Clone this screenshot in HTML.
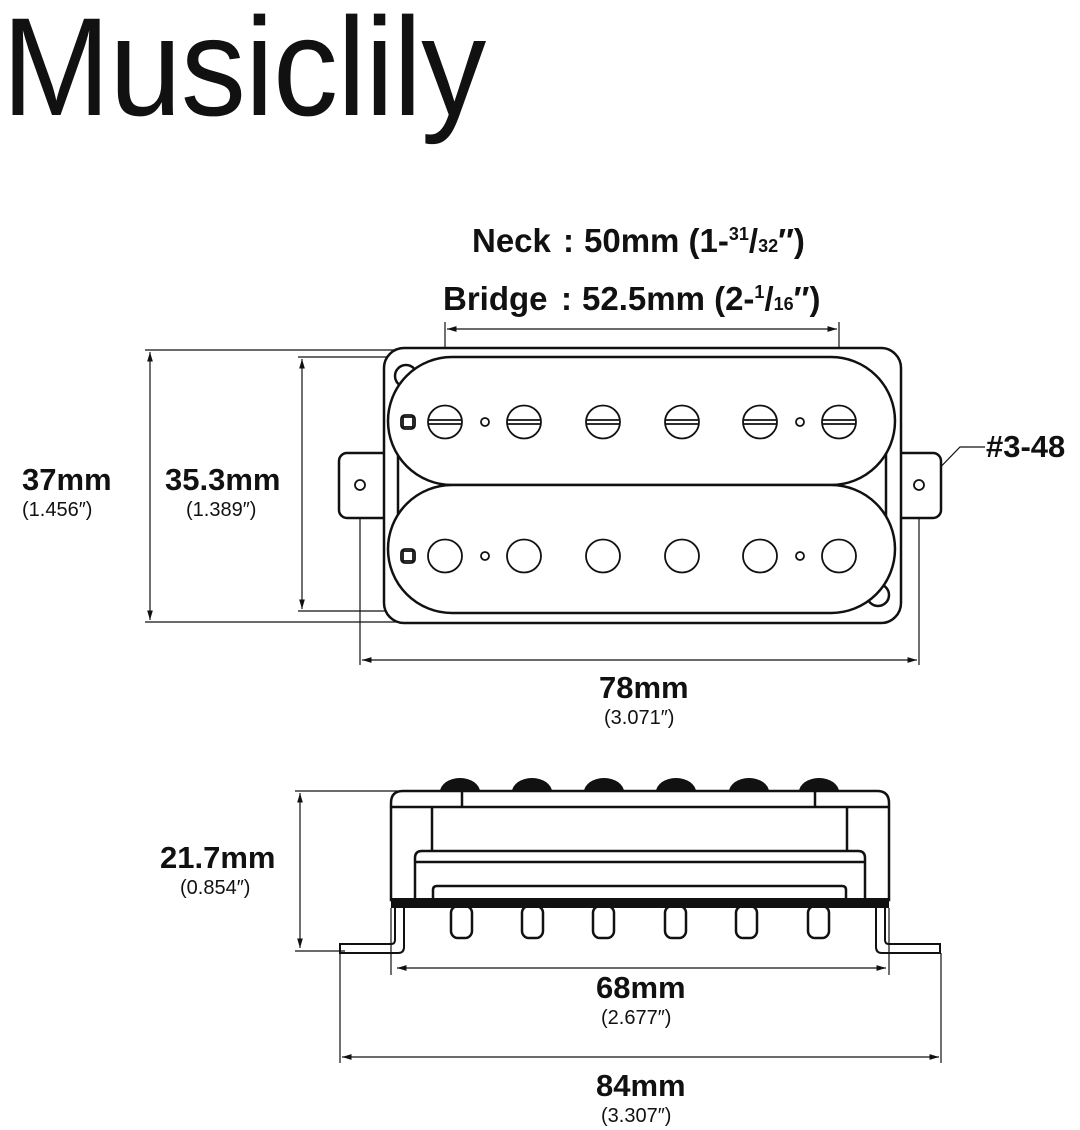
<!DOCTYPE html>
<html><head><meta charset="utf-8"><style>
html,body{margin:0;padding:0;background:#fff;}
svg{display:block;}
text{font-family:"Liberation Sans",Arial,sans-serif;fill:#111;}
.b{font-weight:bold;}
</style></head><body>
<svg width="1080" height="1130" viewBox="0 0 1080 1130" xmlns="http://www.w3.org/2000/svg">
<defs>
<marker id="a" viewBox="0 0 10 10" refX="10" refY="5" markerWidth="8" markerHeight="8" orient="auto-start-reverse"><path d="M0,2 L10,5 L0,8 z" fill="#111"/></marker>
</defs>
<text x="2" y="115" font-size="140" transform="scale(0.93,1)" style="letter-spacing:-1px">Musiclily</text>

<text x="472" y="252" font-size="33" class="b">Neck</text>
<text x="563" y="252" font-size="33" class="b">:</text>
<text x="584" y="252" font-size="33" class="b">50mm (1-<tspan font-size="18" dy="-12">31</tspan><tspan dy="12">/</tspan><tspan font-size="18">32</tspan>″)</text>
<text x="443" y="310" font-size="33" class="b">Bridge</text>
<text x="561" y="310" font-size="33" class="b">:</text>
<text x="582" y="310" font-size="33" class="b">52.5mm (2-<tspan font-size="18" dy="-12">1</tspan><tspan dy="12">/</tspan><tspan font-size="18">16</tspan>″)</text>

<g stroke="#111" fill="none" stroke-width="1.2">
<line x1="445" y1="322" x2="445" y2="422"/><line x1="839" y1="322" x2="839" y2="422"/>
<line x1="447" y1="329" x2="837" y2="329" marker-start="url(#a)" marker-end="url(#a)"/>
<line x1="145" y1="350" x2="395" y2="350"/><line x1="145" y1="622" x2="400" y2="622"/>
<line x1="150" y1="352" x2="150" y2="620" marker-start="url(#a)" marker-end="url(#a)"/>
<line x1="298" y1="357" x2="405" y2="357"/><line x1="298" y1="611" x2="405" y2="611"/>
<line x1="302" y1="359" x2="302" y2="609" marker-start="url(#a)" marker-end="url(#a)"/>
<line x1="360" y1="490" x2="360" y2="665"/><line x1="919" y1="490" x2="919" y2="665"/>
<line x1="362" y1="660" x2="917" y2="660" marker-start="url(#a)" marker-end="url(#a)"/>
<polyline points="985,447 960,447 928,480" marker-end="url(#a)"/>
</g>
<text x="22" y="490" font-size="31" class="b">37mm</text>
<text x="22" y="516" font-size="20">(1.456″)</text>
<text x="165" y="490" font-size="31" class="b">35.3mm</text>
<text x="186" y="516" font-size="20">(1.389″)</text>
<text x="986" y="457" font-size="31" class="b">#3-48</text>
<text x="599" y="698" font-size="31" class="b">78mm</text>
<text x="604" y="724" font-size="20">(3.071″)</text>

<g stroke="#111" fill="#fff" stroke-width="2.5">
<rect x="339" y="453" width="60" height="65" rx="8"/>
<rect x="880" y="453" width="61" height="65" rx="8"/>
<rect x="384" y="348" width="517" height="275" rx="20"/>
<line x1="398" y1="453" x2="398" y2="518"/><line x1="886" y1="453" x2="886" y2="518"/>
<circle cx="406" cy="376" r="11"/><circle cx="878" cy="595" r="11"/>
<rect x="388" y="357" width="507" height="128" rx="64"/>
<rect x="388" y="485" width="507" height="128" rx="64"/>
</g>
<g stroke="#111" fill="#fff" stroke-width="1.8">
<circle cx="360" cy="485" r="5"/><circle cx="919" cy="485" r="5"/>
<rect x="401" y="415" width="14" height="14" rx="4"/><rect x="403" y="417" width="10" height="10"/>
<rect x="401" y="549" width="14" height="14" rx="4"/><rect x="403" y="551" width="10" height="10"/>
<circle cx="485" cy="422" r="4"/><circle cx="800" cy="422" r="4"/>
<circle cx="485" cy="556" r="4"/><circle cx="800" cy="556" r="4"/>
<g id="p"><ellipse cx="445" cy="422" rx="17" ry="16.5"/><line x1="428" y1="420" x2="462" y2="420"/><line x1="428" y1="424" x2="462" y2="424"/></g>
<use href="#p" x="79"/><use href="#p" x="158"/><use href="#p" x="237"/><use href="#p" x="315"/><use href="#p" x="394"/>
<ellipse cx="445" cy="556" rx="17" ry="16.5"/><ellipse cx="524" cy="556" rx="17" ry="16.5"/><ellipse cx="603" cy="556" rx="17" ry="16.5"/>
<ellipse cx="682" cy="556" rx="17" ry="16.5"/><ellipse cx="760" cy="556" rx="17" ry="16.5"/><ellipse cx="839" cy="556" rx="17" ry="16.5"/>
</g>

<!-- side view -->
<g fill="#111">
<ellipse cx="460" cy="792" rx="20" ry="14"/><ellipse cx="532" cy="792" rx="20" ry="14"/><ellipse cx="604" cy="792" rx="20" ry="14"/>
<ellipse cx="676" cy="792" rx="20" ry="14"/><ellipse cx="749" cy="792" rx="20" ry="14"/><ellipse cx="819" cy="792" rx="20" ry="14"/>
</g>
<g stroke="#111" fill="#fff" stroke-width="2.5">
<path d="M391,900 V803 Q391,791 403,791 H877 Q889,791 889,803 V900 Z"/>
<line x1="391" y1="807" x2="889" y2="807"/>
<line x1="462" y1="791" x2="462" y2="807"/><line x1="815" y1="791" x2="815" y2="807"/>
<line x1="432" y1="807" x2="432" y2="851"/><line x1="847" y1="807" x2="847" y2="851"/>
<path d="M415,900 V858 Q415,851 422,851 H858 Q865,851 865,858 V900"/>
<line x1="415" y1="862" x2="865" y2="862"/>
<path d="M433,900 V890 Q433,886 437,886 H842 Q846,886 846,890 V900"/>
<rect x="451" y="906" width="21" height="32" rx="7"/><rect x="522" y="906" width="21" height="32" rx="7"/>
<rect x="593" y="906" width="21" height="32" rx="7"/><rect x="665" y="906" width="21" height="32" rx="7"/>
<rect x="736" y="906" width="21" height="32" rx="7"/><rect x="808" y="906" width="21" height="32" rx="7"/>
<path d="M395,906 V940 Q395,944 391,944 H340 V953 H398 Q404,953 404,947 V906 Z" stroke-width="2"/>
<path d="M885,906 V940 Q885,944 889,944 H940 V953 H882 Q876,953 876,947 V906 Z" stroke-width="2"/>
</g>
<rect x="391" y="898" width="498" height="10" fill="#111"/>
<g stroke="#111" fill="none" stroke-width="1.2">
<line x1="295" y1="791" x2="400" y2="791"/><line x1="295" y1="951" x2="345" y2="951"/>
<line x1="300" y1="793" x2="300" y2="948" marker-start="url(#a)" marker-end="url(#a)"/>
<line x1="391" y1="908" x2="391" y2="975"/><line x1="889" y1="908" x2="889" y2="975"/>
<line x1="397" y1="968" x2="886" y2="968" marker-start="url(#a)" marker-end="url(#a)"/>
<line x1="340" y1="953" x2="340" y2="1063"/><line x1="941" y1="953" x2="941" y2="1063"/>
<line x1="342" y1="1057" x2="939" y2="1057" marker-start="url(#a)" marker-end="url(#a)"/>
</g>
<text x="160" y="868" font-size="31" class="b">21.7mm</text>
<text x="180" y="894" font-size="20">(0.854″)</text>
<text x="596" y="998" font-size="31" class="b">68mm</text>
<text x="601" y="1024" font-size="20">(2.677″)</text>
<text x="596" y="1096" font-size="31" class="b">84mm</text>
<text x="601" y="1122" font-size="20">(3.307″)</text>
</svg>
</body></html>
